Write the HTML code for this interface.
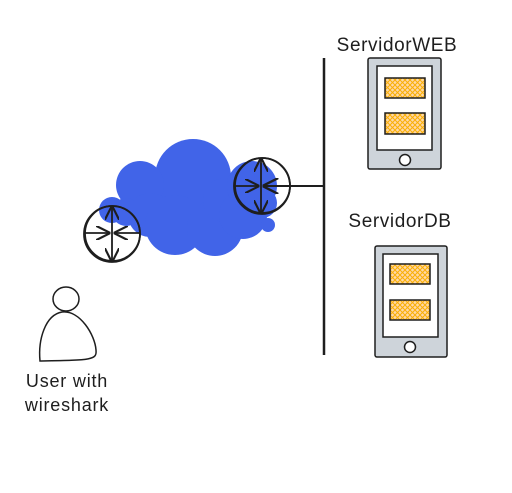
<!DOCTYPE html>
<html><head><meta charset="utf-8"><style>
html,body{margin:0;padding:0;background:#fff;width:512px;height:493px;overflow:hidden}
text{font-family:"Liberation Sans",sans-serif;fill:#1e1e1e}
</style></head><body>
<svg width="512" height="493" viewBox="0 0 512 493" xmlns="http://www.w3.org/2000/svg">
<defs>
<pattern id="h" width="5" height="5" patternUnits="userSpaceOnUse">
<rect width="5" height="5" fill="#ffd8a8"/>
<path d="M0 0L5 5M5 0L0 5" stroke="#fab005" stroke-width="1"/>
</pattern>
<marker id="a" viewBox="0 0 10 10" refX="9" refY="5" markerWidth="8" markerHeight="8" orient="auto"><path d="M0 0L10 5L0 10" fill="none" stroke="#1e1e1e" stroke-width="1.5"/></marker>
</defs>
<g fill="#4164e8">
<circle cx="193" cy="177" r="38"/>
<circle cx="140" cy="185" r="24"/>
<circle cx="112" cy="210" r="13"/>
<circle cx="126" cy="212" r="14"/>
<circle cx="150" cy="215" r="22"/>
<circle cx="175" cy="225" r="30"/>
<circle cx="215" cy="228" r="28"/>
<circle cx="225" cy="200" r="22"/>
<circle cx="243" cy="215" r="24"/>
<circle cx="252" cy="186" r="25"/>
<circle cx="262" cy="203" r="15"/>
<circle cx="268" cy="225" r="7"/>
</g>
<g fill="none" stroke="#1e1e1e" stroke-width="1.8">
<circle cx="112" cy="234" r="28"/><circle cx="112.5" cy="233.5" r="27.5"/>
<line x1="112" y1="234" x2="112" y2="207" marker-end="url(#a)"/>
<line x1="112" y1="234" x2="112" y2="261" marker-end="url(#a)"/>
<line x1="84" y1="233" x2="109" y2="233" marker-end="url(#a)"/>
<line x1="140" y1="233" x2="115" y2="233" marker-end="url(#a)"/>
<circle cx="262" cy="186" r="28"/><circle cx="262.5" cy="185.5" r="27.5"/>
<line x1="261" y1="186" x2="261" y2="159" marker-end="url(#a)"/>
<line x1="261" y1="186" x2="261" y2="213" marker-end="url(#a)"/>
<line x1="234" y1="186" x2="258" y2="186" marker-end="url(#a)"/>
<line x1="324" y1="186" x2="264" y2="186" marker-end="url(#a)" stroke-width="2"/>
<line x1="324" y1="58" x2="324" y2="355" stroke-width="2.5"/>
</g>
<text x="397" y="51" font-size="19" letter-spacing="0.6" text-anchor="middle">ServidorWEB</text>
<text x="400" y="227" font-size="19" letter-spacing="0.6" text-anchor="middle">ServidorDB</text>
<g stroke="#1e1e1e" stroke-width="1.5">
<rect x="368" y="58" width="73" height="111" rx="2" fill="#ced4da"/>
<rect x="377" y="66" width="55" height="84" fill="#fff"/>
<rect x="385" y="78" width="40" height="20" fill="url(#h)"/>
<rect x="385" y="113" width="40" height="21" fill="url(#h)"/>
<circle cx="405" cy="160" r="5.5" fill="#fff"/>
<rect x="375" y="246" width="72" height="111" rx="2" fill="#ced4da"/>
<rect x="383" y="254" width="55" height="83" fill="#fff"/>
<rect x="390" y="264" width="40" height="20" fill="url(#h)"/>
<rect x="390" y="300" width="40" height="20" fill="url(#h)"/>
<circle cx="410" cy="347" r="5.5" fill="#fff"/>
</g>
<g fill="none" stroke="#1e1e1e" stroke-width="1.5">
<ellipse cx="66" cy="299" rx="13" ry="12"/>
<path d="M40 361 C38 340 45 315 62 312 C80 310 95 335 96 350 C97 360 92 360 40 361 Z"/>
</g>
<text x="67" y="387" font-size="18" letter-spacing="0.8" text-anchor="middle">User with</text>
<text x="67" y="411" font-size="18" letter-spacing="0.8" text-anchor="middle">wireshark</text>
</svg>
</body></html>
